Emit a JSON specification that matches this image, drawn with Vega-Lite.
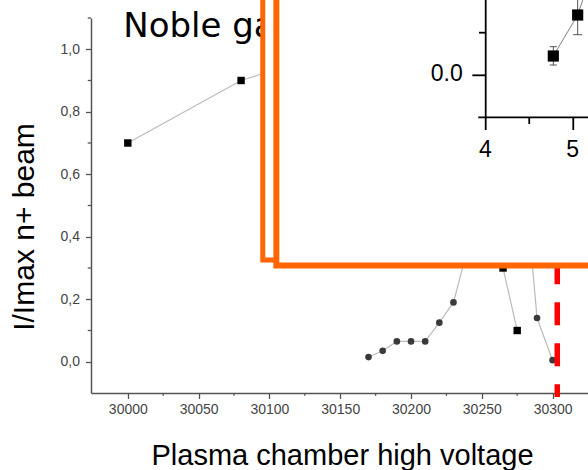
{
  "$schema": "https://vega.github.io/schema/vega-lite/v6.json",
  "width": 497,
  "height": 375,
  "autosize": {"type": "none"},
  "padding": {"left": 91, "top": 18, "right": 0, "bottom": 77},
  "background": "white",
  "config": {"view": {"stroke": null}, "font": "Liberation Sans"},
  "datasets": {
    "main": [
      {"series": "sq", "x": 30000, "y": 0.70},
      {"series": "sq", "x": 30080, "y": 0.90},
      {"series": "sq", "x": 30150, "y": 1.00},
      {"series": "sq", "x": 30265, "y": 0.30},
      {"series": "sq", "x": 30275, "y": 0.10},
      {"series": "ci", "x": 30170, "y": 0.015},
      {"series": "ci", "x": 30180, "y": 0.035},
      {"series": "ci", "x": 30190, "y": 0.065},
      {"series": "ci", "x": 30200, "y": 0.065},
      {"series": "ci", "x": 30210, "y": 0.065},
      {"series": "ci", "x": 30220, "y": 0.125},
      {"series": "ci", "x": 30230, "y": 0.19},
      {"series": "ci", "x": 30248, "y": 0.50},
      {"series": "ci", "x": 30262, "y": 0.95},
      {"series": "ci", "x": 30272, "y": 1.00},
      {"series": "ci", "x": 30282, "y": 0.50},
      {"series": "ci", "x": 30289, "y": 0.14},
      {"series": "ci", "x": 30300, "y": 0.005}
    ],
    "xminor": [
      {"x": 30025, "y": -0.1, "y2": -0.109},
      {"x": 30075, "y": -0.1, "y2": -0.109},
      {"x": 30125, "y": -0.1, "y2": -0.109},
      {"x": 30175, "y": -0.1, "y2": -0.109},
      {"x": 30225, "y": -0.1, "y2": -0.109},
      {"x": 30275, "y": -0.1, "y2": -0.109}
    ],
    "yminor": [
      {"x": 29974, "x2": 29971.7, "y": 0.1},
      {"x": 29974, "x2": 29971.7, "y": 0.3},
      {"x": 29974, "x2": 29971.7, "y": 0.5},
      {"x": 29974, "x2": 29971.7, "y": 0.7},
      {"x": 29974, "x2": 29971.7, "y": 0.9},
      {"x": 29974, "x2": 29971.7, "y": 1.1}
    ],
    "title": [{"x": 29996.8, "y": 1.04, "label": "Noble gas"}],
    "marker": [{"x": 30303.3, "y": 0.3216, "y2": -0.1128}],
    "box1": [{"x": 30095.3, "x2": 30400, "y": 0.3256, "y2": 1.2}],
    "box2": [{"x": 30104.9, "x2": 30400, "y": 0.308, "y2": 1.2}],
    "insetAxes": [
      {"x": 30252.75, "x2": 30252.75, "y": 0.7822, "y2": 1.18},
      {"x": 30247.5, "x2": 30340, "y": 0.7822, "y2": 0.7822},
      {"x": 30243.3, "x2": 30252.75, "y": 0.9166, "y2": 0.9166},
      {"x": 30248.0, "x2": 30252.75, "y": 1.053, "y2": 1.053},
      {"x": 30252.75, "x2": 30252.75, "y": 0.7822, "y2": 0.7416},
      {"x": 30283.5, "x2": 30283.5, "y": 0.7822, "y2": 0.7608},
      {"x": 30314.6, "x2": 30314.6, "y": 0.7822, "y2": 0.7416}
    ],
    "insetLabels": [
      {"x": 30225.2, "y": 0.8994, "label": "0.0"},
      {"x": 30252.6, "y": 0.6562, "label": "4"},
      {"x": 30314.2, "y": 0.6562, "label": "5"}
    ],
    "insetPoints": [
      {"x": 30300.5, "y": 0.9784},
      {"x": 30317.7, "y": 1.1096},
      {"x": 30332.1, "y": 1.3016}
    ],
    "insetErr": [
      {"x": 30300.5, "x2": 30300.5, "y": 0.9496, "y2": 1.0082},
      {"x": 30298.0, "x2": 30303.0, "y": 0.9496, "y2": 0.9496},
      {"x": 30298.0, "x2": 30303.0, "y": 1.0082, "y2": 1.0082},
      {"x": 30317.7, "x2": 30317.7, "y": 1.0466, "y2": 1.18},
      {"x": 30314.5, "x2": 30320.9, "y": 1.0466, "y2": 1.0466}
    ]
  },
  "encoding": {
    "x": {
      "field": "x",
      "type": "quantitative",
      "scale": {"domain": [29974, 30325], "nice": false, "zero": false},
      "axis": {
        "title": "Plasma chamber high voltage",
        "values": [30000, 30050, 30100, 30150, 30200, 30250, 30300],
        "format": "d",
        "grid": false,
        "domainColor": "#555555",
        "domainWidth": 1.5,
        "tickColor": "#555555",
        "tickWidth": 1.3,
        "tickSize": 5.5,
        "labelFont": "Liberation Sans",
        "labelFontSize": 14,
        "labelColor": "#444444",
        "labelPadding": 4,
        "labelFlush": false,
        "labelOverlap": false,
        "titleFont": "Liberation Sans",
        "titleFontSize": 29,
        "titleFontWeight": "normal",
        "titleColor": "#000000",
        "titleX": 251,
        "titleY": 71,
        "titleAlign": "center",
        "titleBaseline": "alphabetic"
      }
    },
    "y": {
      "field": "y",
      "type": "quantitative",
      "scale": {"domain": [-0.1, 1.1], "nice": false, "zero": false},
      "axis": {
        "title": "I/Imax n+ beam",
        "values": [0, 0.2, 0.4, 0.6, 0.8, 1.0],
        "labelExpr": "replace(format(datum.value, '.1f'), '.', ',')",
        "grid": false,
        "domainColor": "#555555",
        "domainWidth": 1.5,
        "tickColor": "#555555",
        "tickWidth": 1.3,
        "tickSize": 5.5,
        "labelFont": "Liberation Sans",
        "labelFontSize": 14,
        "labelColor": "#444444",
        "labelPadding": 6,
        "labelOverlap": false,
        "titleFont": "Liberation Sans",
        "titleFontSize": 30,
        "titleFontWeight": "normal",
        "titleColor": "#000000",
        "titleAngle": -90,
        "titleX": -58,
        "titleY": 208.5,
        "titleAlign": "center",
        "titleBaseline": "alphabetic"
      }
    }
  },
  "layer": [
    {
      "data": {"name": "xminor"},
      "mark": {"type": "rule", "color": "#555555", "strokeWidth": 1.3},
      "encoding": {"y2": {"field": "y2"}}
    },
    {
      "data": {"name": "yminor"},
      "mark": {"type": "rule", "color": "#555555", "strokeWidth": 1.3},
      "encoding": {"x2": {"field": "x2"}}
    },
    {
      "data": {"name": "main"},
      "mark": {"type": "line", "color": "#bbbbbb", "strokeWidth": 1.2},
      "encoding": {"detail": {"field": "series"}}
    },
    {
      "data": {"name": "main"},
      "transform": [{"filter": "datum.series == 'sq'"}],
      "mark": {"type": "point", "shape": "square", "filled": true, "color": "#000000", "opacity": 1, "size": 55}
    },
    {
      "data": {"name": "main"},
      "transform": [{"filter": "datum.series == 'ci'"}],
      "mark": {"type": "circle", "color": "#3a3a3a", "opacity": 1, "size": 44}
    },
    {
      "data": {"name": "title"},
      "mark": {"type": "text", "font": "DejaVu Sans", "fontSize": 34, "align": "left", "baseline": "alphabetic", "color": "#000000"},
      "encoding": {"text": {"field": "label"}}
    },
    {
      "data": {"name": "marker"},
      "mark": {"type": "rule", "color": "#ff0000", "strokeWidth": 5.5, "strokeDash": [23, 18]},
      "encoding": {"y2": {"field": "y2"}}
    },
    {
      "data": {"name": "box1"},
      "mark": {"type": "rect", "fill": "#ffffff", "stroke": "#ff6600", "strokeWidth": 5},
      "encoding": {"x2": {"field": "x2"}, "y2": {"field": "y2"}}
    },
    {
      "data": {"name": "box2"},
      "mark": {"type": "rect", "fill": "#ffffff", "stroke": "#ff6600", "strokeWidth": 6},
      "encoding": {"x2": {"field": "x2"}, "y2": {"field": "y2"}}
    },
    {
      "data": {"name": "insetAxes"},
      "mark": {"type": "rule", "color": "#000000", "strokeWidth": 1.8},
      "encoding": {"x2": {"field": "x2"}, "y2": {"field": "y2"}}
    },
    {
      "data": {"name": "insetLabels"},
      "mark": {"type": "text", "font": "Liberation Sans", "fontSize": 23, "align": "center", "baseline": "alphabetic", "color": "#000000"},
      "encoding": {"text": {"field": "label"}}
    },
    {
      "data": {"name": "insetErr"},
      "mark": {"type": "rule", "color": "#555555", "strokeWidth": 1},
      "encoding": {"x2": {"field": "x2"}, "y2": {"field": "y2"}}
    },
    {
      "data": {"name": "insetPoints"},
      "mark": {"type": "line", "color": "#808080", "strokeWidth": 1}
    },
    {
      "data": {"name": "insetPoints"},
      "mark": {"type": "point", "shape": "square", "filled": true, "color": "#000000", "opacity": 1, "size": 125}
    }
  ]
}
